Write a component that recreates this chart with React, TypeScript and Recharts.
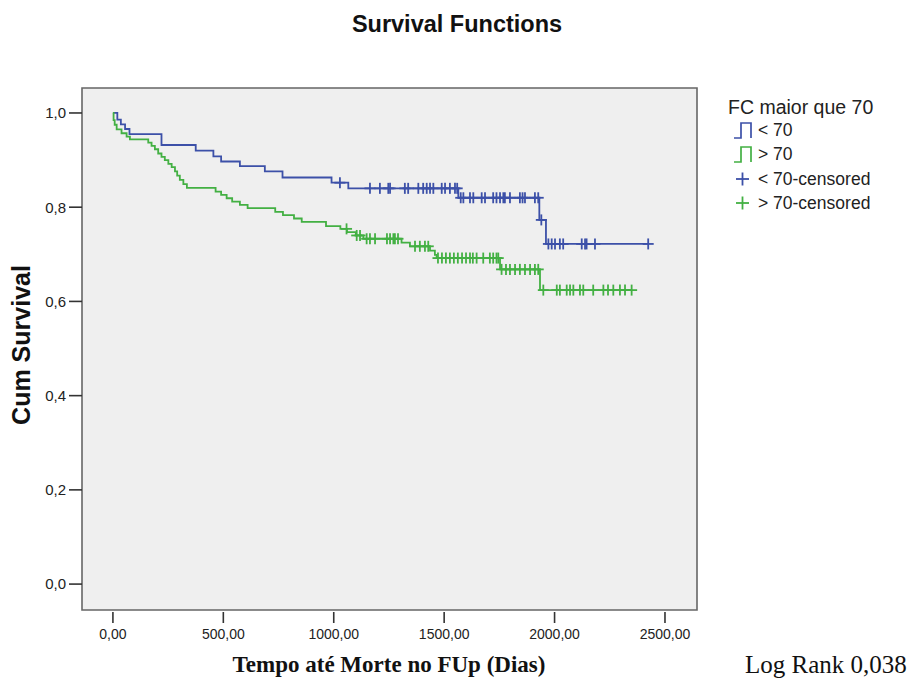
import React from "react";
import {
  ComposedChart,
  Line,
  Scatter,
  XAxis,
  YAxis,
  ReferenceArea,
} from "recharts";

// Kaplan-Meier steps: [day, cumulative survival]
const lowSteps: [number, number][] = [
  [0, 1.0], [20, 0.986], [36, 0.976], [55, 0.966], [75, 0.955], [220, 0.932],
  [375, 0.92], [455, 0.908], [490, 0.897], [575, 0.887], [688, 0.876],
  [768, 0.863], [990, 0.852], [1066, 0.84], [1564, 0.82], [1931, 0.773],
  [1961, 0.722], [2424, 0.722],
];

const highSteps: [number, number][] = [
  [0, 1.0], [3, 0.985], [8, 0.975], [17, 0.965], [39, 0.957], [62, 0.95],
  [77, 0.944], [160, 0.937], [175, 0.93], [190, 0.923], [205, 0.914],
  [220, 0.907], [235, 0.9], [251, 0.892], [266, 0.885], [281, 0.876],
  [291, 0.867], [303, 0.858], [319, 0.849], [335, 0.841], [465, 0.833],
  [490, 0.826], [515, 0.819], [540, 0.812], [575, 0.805], [610, 0.798],
  [735, 0.79], [770, 0.783], [820, 0.776], [855, 0.769], [965, 0.76],
  [1030, 0.754], [1060, 0.747], [1100, 0.74], [1134, 0.733], [1307, 0.725],
  [1345, 0.717], [1436, 0.708], [1458, 0.699], [1466, 0.692], [1753, 0.668],
  [1934, 0.624], [2349, 0.624],
];

// censored observation times
const lowCensored = [
  1028, 1164, 1209, 1247, 1255, 1322, 1337, 1383, 1405, 1421, 1436, 1451,
  1489, 1504, 1526, 1549, 1559, 1575, 1587, 1617, 1632, 1670, 1685, 1722,
  1737, 1753, 1768, 1775, 1798, 1843, 1855, 1866, 1911, 1926, 1940, 1972,
  1987, 2002, 2024, 2039, 2123, 2138, 2145, 2183, 2424,
];

const highCensored = [
  1058, 1104, 1119, 1149, 1164, 1187, 1241, 1255, 1270, 1277, 1291, 1368,
  1390, 1413, 1428, 1472, 1490, 1508, 1526, 1544, 1562, 1581, 1599, 1617,
  1630, 1647, 1677, 1707, 1722, 1737, 1745, 1760, 1780, 1798, 1821, 1843,
  1866, 1889, 1911, 1926, 1949, 2010, 2024, 2055, 2070, 2085, 2115, 2130,
  2175, 2221, 2242, 2266, 2296, 2319, 2349,
];

const xTicks = [0, 500, 1000, 1500, 2000, 2500];
const yTicks = [0, 0.2, 0.4, 0.6, 0.8, 1.0];

const BLUE = "#3c50a8";
const GREEN = "#43b043";

const toRows = (steps: [number, number][]) =>
  steps.map(([t, s]) => ({ t, s }));

const survivalAt = (steps: [number, number][], t: number) => {
  let s = steps[0][1];
  for (const [st, sv] of steps) {
    if (st <= t) s = sv;
  }
  return s;
};

const censorRows = (steps: [number, number][], times: number[]) =>
  times.map((t) => ({ t, s: survivalAt(steps, t) }));

const sans = "Liberation Sans, Arial, sans-serif";
const serif = "Liberation Serif, Times New Roman, serif";

const Plus = (props: any) => {
  const { cx, cy, fill } = props;
  if (cx == null || cy == null) return null;
  return (
    <g stroke={fill} strokeWidth={1.8}>
      <line x1={cx - 5.5} x2={cx + 5.5} y1={cy} y2={cy} />
      <line x1={cx} x2={cx} y1={cy - 5.5} y2={cy + 5.5} />
    </g>
  );
};

const XTick = (props: any) => {
  const { x, y, payload } = props;
  return (
    <g>
      <line x1={x} x2={x} y1={y + 2} y2={y + 13} stroke="#333" strokeWidth={1.6} />
      <text
        x={x}
        y={y + 29}
        textAnchor="middle"
        fontSize={14}
        fill="#222"
        fontFamily={sans}
      >
        {payload.value.toFixed(2).replace(".", ",")}
      </text>
    </g>
  );
};

const StepIcon = ({ color }: { color: string }) => (
  <svg width={20} height={20} style={{ display: "block" }}>
    <path d="M1,18 H8 V3 H18 V18" fill="none" stroke={color} strokeWidth={1.7} />
  </svg>
);

const PlusIcon = ({ color }: { color: string }) => (
  <svg width={20} height={16} style={{ display: "block" }}>
    <line x1={3} x2={16} y1={8} y2={8} stroke={color} strokeWidth={1.8} />
    <line x1={9.5} x2={9.5} y1={1.5} y2={14.5} stroke={color} strokeWidth={1.8} />
  </svg>
);

const legendRows = [
  { label: "< 70", color: BLUE, kind: "step", top: 120 },
  { label: "> 70", color: GREEN, kind: "step", top: 144 },
  { label: "< 70-censored", color: BLUE, kind: "plus", top: 169 },
  { label: "> 70-censored", color: GREEN, kind: "plus", top: 193 },
];

export default function App() {
  return (
    <div
      style={{
        position: "absolute",
        left: 0,
        top: 0,
        width: 912,
        height: 682,
        background: "#fff",
        fontFamily: sans,
      }}
    >
      <ComposedChart
        width={912}
        height={682}
        margin={{ top: 88, right: 215, bottom: 0, left: 0 }}
      >
        <XAxis
          type="number"
          dataKey="t"
          domain={[-140, 2645]}
          ticks={xTicks}
          allowDataOverflow
          axisLine={false}
          tickLine={false}
          tickSize={0}
          tickMargin={0}
          height={72}
          tick={<XTick />}
        />
        <YAxis
          type="number"
          dataKey="s"
          domain={[-0.055, 1.053]}
          ticks={yTicks}
          allowDataOverflow
          width={82}
          axisLine={false}
          tickSize={13}
          tickMargin={3}
          tickLine={{ stroke: "#333", strokeWidth: 1.6 }}
          tick={{ fontSize: 15, fill: "#222", fontFamily: sans }}
          tickFormatter={(v: number) => v.toFixed(1).replace(".", ",")}
        />
        <ReferenceArea
          x1={-140}
          x2={2645}
          y1={-0.055}
          y2={1.053}
          fill="#efefef"
          fillOpacity={1}
          stroke="#666"
          strokeWidth={1.6}
        />
        <Line
          data={toRows(lowSteps)}
          dataKey="s"
          type="stepAfter"
          stroke={BLUE}
          strokeWidth={1.8}
          dot={false}
          isAnimationActive={false}
        />
        <Line
          data={toRows(highSteps)}
          dataKey="s"
          type="stepAfter"
          stroke={GREEN}
          strokeWidth={1.8}
          dot={false}
          isAnimationActive={false}
        />
        <Scatter
          data={censorRows(lowSteps, lowCensored)}
          dataKey="s"
          fill={BLUE}
          shape={<Plus />}
          isAnimationActive={false}
        />
        <Scatter
          data={censorRows(highSteps, highCensored)}
          dataKey="s"
          fill={GREEN}
          shape={<Plus />}
          isAnimationActive={false}
        />
      </ComposedChart>

      <div
        style={{
          position: "absolute",
          left: 0,
          width: 914,
          top: 11,
          textAlign: "center",
          fontWeight: "bold",
          fontSize: 23.5,
          color: "#111",
        }}
      >
        Survival Functions
      </div>

      <div
        style={{
          position: "absolute",
          left: 21,
          top: 345,
          transform: "translate(-50%, -50%) rotate(-90deg)",
          fontWeight: "bold",
          fontSize: 25,
          color: "#111",
          whiteSpace: "nowrap",
        }}
      >
        Cum Survival
      </div>

      <div
        style={{
          position: "absolute",
          left: 389,
          top: 652,
          transform: "translateX(-50%)",
          fontFamily: serif,
          fontWeight: "bold",
          fontSize: 23,
          color: "#111",
          whiteSpace: "nowrap",
        }}
      >
        Tempo até Morte no FUp (Dias)
      </div>

      <div
        style={{
          position: "absolute",
          left: 745,
          top: 651,
          fontFamily: serif,
          fontSize: 25,
          color: "#111",
          whiteSpace: "nowrap",
        }}
      >
        Log Rank 0,038
      </div>

      <div
        style={{
          position: "absolute",
          left: 728,
          top: 96,
          fontSize: 19.5,
          color: "#222",
          whiteSpace: "nowrap",
        }}
      >
        FC maior que 70
      </div>
      {legendRows.map((r) => (
        <div
          key={r.label}
          style={{
            position: "absolute",
            left: 733,
            top: r.top,
            height: 20,
            display: "flex",
            alignItems: "center",
            fontSize: 17.5,
            color: "#222",
            whiteSpace: "nowrap",
          }}
        >
          <div style={{ width: 25 }}>
            {r.kind === "step" ? (
              <StepIcon color={r.color} />
            ) : (
              <PlusIcon color={r.color} />
            )}
          </div>
          {r.label}
        </div>
      ))}
    </div>
  );
}
